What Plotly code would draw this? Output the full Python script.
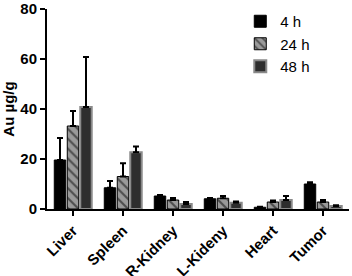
import plotly.graph_objects as go

categories = ["Liver", "Spleen", "R-Kidney", "L-Kideny", "Heart", "Tumor"]
h4 = [19.6, 8.5, 5.2, 4.1, 0.7, 10.0]
h4_err = [8.8, 2.7, 0.4, 0.3, 0.2, 0.7]
h24 = [33.2, 13.0, 3.6, 4.3, 2.8, 2.8]
h24_err = [6.0, 5.3, 0.8, 0.9, 0.6, 0.8]
h48 = [40.8, 22.7, 2.0, 2.5, 3.6, 1.2]
h48_err = [20.0, 2.3, 0.8, 0.5, 1.6, 0.3]

FAM = "Liberation Sans, Arial"
bold = dict(family=FAM, size=15, color="black", weight="bold")

def ebar(e):
    return dict(type="data", array=e, arrayminus=[0] * len(e), symmetric=False,
                color="black", thickness=2, width=3)

fig = go.Figure()
fig.add_trace(go.Bar(name="4 h", x=categories, y=h4, error_y=ebar(h4_err), legendgroup="a",
                     marker=dict(color="black", line=dict(color="black", width=1))))
fig.add_trace(go.Bar(name="24 h", x=categories, y=h24, error_y=ebar(h24_err), legendgroup="b",
                     marker=dict(color="#9a9a9a", line=dict(color="black", width=1),
                                 pattern=dict(shape="\\", fgcolor="black", size=7, solidity=0.3))))
fig.add_trace(go.Bar(name="48 h", x=categories, y=h48, error_y=ebar(h48_err), legendgroup="c",
                     marker=dict(color="#2e2e2e", line=dict(color="#8a8a8a", width=2))))

fig.update_layout(
    width=352, height=276,
    margin=dict(l=47, r=3, t=9, b=67, autoexpand=False),
    barmode="group", bargap=0.22, bargroupgap=0.12,
    plot_bgcolor="white", paper_bgcolor="white",
    font=dict(family=FAM, size=14, color="black"),
    showlegend=True,
    legend=dict(x=0.64, y=1.02, xanchor="left", yanchor="top",
                font=dict(family=FAM, size=15, color="black"),
                bgcolor="rgba(0,0,0,0)", traceorder="grouped", tracegroupgap=0, itemwidth=30),
)
fig.update_xaxes(showline=True, linecolor="black", linewidth=2, ticks="outside",
                 ticklen=5, tickwidth=2, tickcolor="black", tickangle=-45,
                 tickfont=bold, automargin=False,
                 range=[-0.52, 5.52], showgrid=False)
fig.update_yaxes(showline=True, linecolor="black", linewidth=2, ticks="outside",
                 ticklen=5, tickwidth=2, tickcolor="black", range=[0, 80],
                 tickvals=[0, 20, 40, 60, 80], showgrid=False, zeroline=False,
                 tickfont=bold, automargin=False,
                 title=dict(text="Au µg/g", standoff=3, font=bold))

fig.write_html("out.html", config={"displayModeBar": False},
               post_script="document.body.style.margin='0';")
